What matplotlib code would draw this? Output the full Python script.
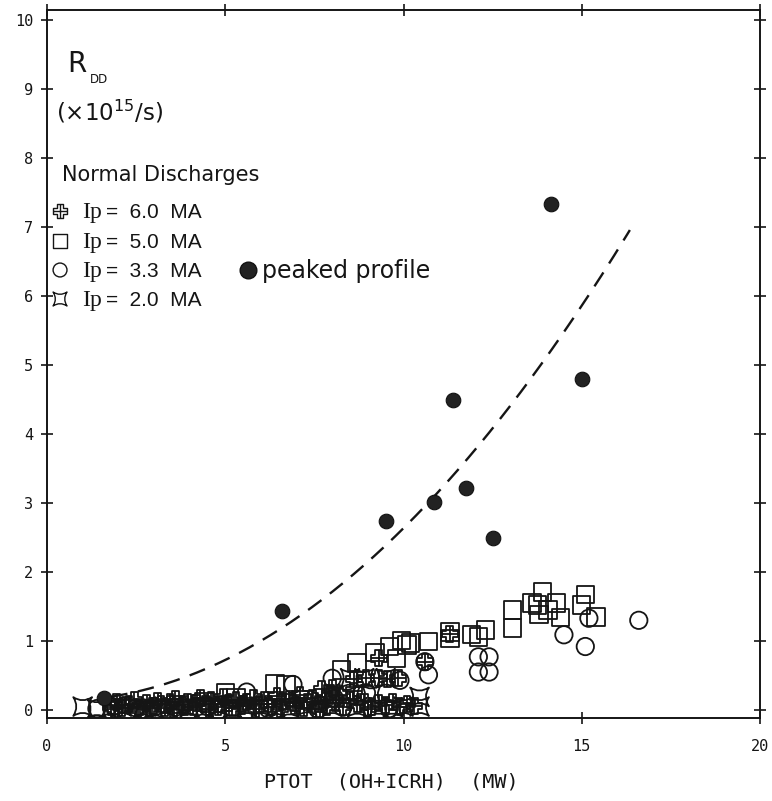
import numpy as np
import matplotlib
matplotlib.use("Agg")
import matplotlib.pyplot as plt
from matplotlib.path import Path

# ---------------- data ----------------
# Ip = 6.0 MA (cross symbol)
ip60_x = [1.8, 1.95, 2.1, 2.3, 2.45, 2.6, 2.8, 2.95, 3.1, 3.3, 3.45, 3.6, 3.8, 3.95,
          4.1, 4.3, 4.45, 4.6, 4.8, 4.95, 5.1, 5.3, 5.45, 5.6, 5.8, 5.95, 6.1, 6.3,
          6.45, 6.6, 6.8, 6.95, 7.1, 7.3, 7.45, 7.6, 7.8, 7.95, 8.1, 8.3, 8.5, 8.7,
          8.9, 9.1, 9.3, 9.5, 9.7, 9.9, 10.1, 10.3,
          1.9, 2.2, 2.55, 2.9, 3.2, 3.55, 3.85, 4.2, 4.55, 4.9, 5.2, 5.5, 5.85,
          6.2, 6.55, 6.9, 7.2, 7.55, 7.85, 8.2, 8.6, 9.0,
          8.6, 8.95, 9.3, 9.55, 9.85, 9.3, 10.6, 11.3, 7.7, 8.0]
ip60_y = [0.05, 0.12, 0.03, 0.09, 0.14, 0.04, 0.10, 0.06, 0.13, 0.03, 0.11, 0.16, 0.07,
          0.12, 0.04, 0.17, 0.09, 0.14, 0.05, 0.19, 0.10, 0.15, 0.06, 0.12, 0.18, 0.08,
          0.14, 0.04, 0.20, 0.11, 0.16, 0.06, 0.22, 0.12, 0.17, 0.08, 0.14, 0.24, 0.10,
          0.05, 0.15, 0.08, 0.12, 0.05, 0.10, 0.07, 0.12, 0.05, 0.09, 0.06,
          0.02, 0.07, 0.01, 0.03, 0.08, 0.02, 0.05, 0.10, 0.02, 0.08, 0.03, 0.09, 0.02,
          0.09, 0.02, 0.10, 0.03, 0.02, 0.05, 0.22, 0.28, 0.02,
          0.45, 0.46, 0.47, 0.45, 0.46, 0.75, 0.70, 1.10, 0.30, 0.32]

# Ip = 5.0 MA (square)
ip50_x = [3.7, 4.4, 5.0, 5.3, 6.4, 6.7, 7.2, 8.26, 8.7, 9.2, 9.6, 9.95, 10.1, 10.2,
          10.7, 11.3, 11.3, 11.9, 12.1, 12.3, 13.05, 13.05, 13.6, 13.75, 13.9, 14.3,
          13.8, 14.4, 15.1, 15.0, 15.4, 14.05, 9.8]
ip50_y = [0.08, 0.12, 0.25, 0.18, 0.38, 0.36, 0.15, 0.58, 0.68, 0.83, 0.92, 1.01, 0.94,
          0.97, 0.99, 1.13, 1.04, 1.09, 1.06, 1.16, 1.45, 1.19, 1.55, 1.52, 1.71, 1.55,
          1.38, 1.34, 1.67, 1.52, 1.35, 1.45, 0.75]

# Ip = 3.3 MA (open circle)
ip33_x = [1.4, 2.5, 3.6, 4.5, 5.6, 6.2, 6.9, 7.6, 8.0, 8.06, 8.3, 8.96, 9.6, 9.9,
          10.6, 10.7, 12.1, 12.4, 12.1, 12.4, 14.5, 15.1, 15.2, 16.6]
ip33_y = [0.02, 0.03, 0.04, 0.05, 0.26, 0.02, 0.37, 0.01, 0.46, 0.17, 0.04, 0.25, 0.02,
          0.43, 0.70, 0.51, 0.77, 0.77, 0.55, 0.55, 1.09, 0.92, 1.33, 1.30]

# Ip = 2.0 MA (concave square)
ip20_x = [1.0, 1.4, 2.1, 2.7, 3.3, 4.0, 4.8, 5.6, 6.4, 7.3, 8.0, 8.4, 8.5, 8.9, 9.5,
          8.7, 9.1, 9.3, 9.7, 10.0, 10.45, 10.45, 1.8, 3.0, 4.4, 5.2, 6.0, 6.8]
ip20_y = [0.05, 0.02, 0.05, 0.03, 0.05, 0.04, 0.06, 0.05, 0.04, 0.06, 0.05, 0.20, 0.46,
          0.46, 0.46, 0.04, 0.22, 0.04, 0.04, 0.05, 0.19, 0.05, 0.04, 0.02, 0.03, 0.02,
          0.05, 0.03]

# peaked profile (filled circles)
peak_x = [1.6, 6.6, 9.5, 10.85, 11.4, 11.75, 12.5, 14.15, 15.0]
peak_y = [0.17, 1.43, 2.74, 3.01, 4.49, 3.22, 2.49, 7.34, 4.80]

# dashed fit curve coefficients  y = c0 + c1 x + c2 x^2
fit_coef = [0.13, -0.0125, 0.0263]
fit_range = [1.8, 16.35]

xticks = [0, 5, 10, 15, 20]
yticks = list(range(0, 11))

# ---------------- markers ----------------
def concave_square():
    k = 0.35
    verts = [(-1, -1), (0, -k), (1, -1), (k, 0), (1, 1), (0, k), (-1, 1), (-k, 0),
             (-1, -1), (-1, -1)]
    codes = [Path.MOVETO, Path.CURVE3, Path.CURVE3, Path.CURVE3, Path.CURVE3,
             Path.CURVE3, Path.CURVE3, Path.CURVE3, Path.CURVE3, Path.CLOSEPOLY]
    return Path(verts, codes)

def cross_marker():
    a = 0.42
    outline = [(-a, 1), (a, 1), (a, a), (1, a), (1, -a), (a, -a), (a, -1), (-a, -1),
               (-a, -a), (-1, -a), (-1, a), (-a, a), (-a, 1)]
    codes = [Path.MOVETO] + [Path.LINETO] * 11 + [Path.CLOSEPOLY]
    verts = outline + [(-1, 0), (1, 0), (0, -1), (0, 1)]
    codes = codes + [Path.MOVETO, Path.LINETO, Path.MOVETO, Path.LINETO]
    return Path(verts, codes)

CSQ = concave_square()
CRS = cross_marker()
ink = "#151515"

# ---------------- figure ----------------
fig = plt.figure(figsize=(7.72, 8.01), dpi=100)
ax = fig.add_axes([47 / 772, 1 - 718 / 801, (760 - 47) / 772, (718 - 10) / 801])
ax.set_xlim(0, 20)
ax.set_ylim(-0.116, 10.145)

ms = 12.5
lw = 1.3
ax.scatter(ip33_x, ip33_y, s=ms ** 2, marker='o', facecolors='none', edgecolors=ink,
           linewidths=lw, zorder=3)
ax.scatter(ip50_x, ip50_y, s=ms ** 2, marker='s', facecolors='none', edgecolors=ink,
           linewidths=lw, zorder=3)
ax.scatter(ip20_x, ip20_y, s=(ms + 1) ** 2, marker=CSQ, facecolors='none', edgecolors=ink,
           linewidths=lw, zorder=3)
ax.scatter(ip60_x, ip60_y, s=(ms - 1) ** 2, marker=CRS, facecolors='none', edgecolors=ink,
           linewidths=lw, zorder=3)
ax.scatter(peak_x, peak_y, s=10.5 ** 2, marker='o', facecolors='#222222',
           edgecolors='#111111', linewidths=0.8, zorder=4)

xf = np.linspace(fit_range[0], fit_range[1], 200)
yf = fit_coef[0] + fit_coef[1] * xf + fit_coef[2] * xf ** 2
ax.plot(xf, yf, color=ink, lw=1.7, linestyle=(0, (7, 4.5)), zorder=2)

# ---------------- axes styling ----------------
for sp in ax.spines.values():
    sp.set_linewidth(1.4)
    sp.set_color(ink)
ax.set_xticks(xticks)
ax.set_yticks(yticks)
ax.tick_params(axis='both', direction='inout', length=8, width=1.2, color=ink,
               top=True, right=True, labelsize=11)
ax.tick_params(axis='x', pad=11)
ax.tick_params(axis='y', pad=6)
for lab in ax.get_xticklabels() + ax.get_yticklabels():
    lab.set_family('DejaVu Sans Mono')
    lab.set_color(ink)
fig.text(391 / 772, 1 - 787 / 801, "PTOT  (OH+ICRH)  (MW)", family='DejaVu Sans Mono',
         fontsize=14.5, color=ink, ha='center', va='baseline')

# ---------------- annotations ----------------
def px2d(px, py):
    return (px - 49) / 35.55, (710 - py) / 69.0

sans = 'DejaVu Sans'
serif = 'Liberation Serif'
tx = dict(transform=ax.transData, color=ink, clip_on=False)

x, y = px2d(69, 72)
ax.text(x, y, "R", family=sans, fontsize=20, **tx)
x, y = px2d(92, 83)
ax.text(x, y, "DD", family=sans, fontsize=8.5, **tx)
x, y = px2d(58, 120)
ax.text(x, y, r"($\times$10$^{15}$/s)", family=sans, fontsize=16.5, **tx)
x, y = px2d(64, 181)
ax.text(x, y, "Normal Discharges", family=sans, fontsize=15, **tx)

rows = [("6.0", CRS, 218), ("5.0", 's', 248), ("3.3", 'o', 277), ("2.0", CSQ, 306)]
for val, mk, base in rows:
    mx, my = px2d(62, base - 7)
    ax.scatter([mx], [my], s=10 ** 2, marker=mk, facecolors='none', edgecolors=ink,
               linewidths=1.0, clip_on=False, zorder=5)
    x, y = px2d(84, base)
    ax.text(x, y, "Ip", family=serif, fontsize=17, **tx)
    x, y = px2d(108, base)
    ax.text(x, y, "=  " + val + "  MA", family='Liberation Sans', fontsize=15, **tx)

mx, my = px2d(249, 270)
ax.scatter([mx], [my], s=12 ** 2, marker='o', facecolors='#222222', edgecolors='#111111',
           clip_on=False, zorder=5)
x, y = px2d(263, 278)
ax.text(x, y, "peaked profile", family=sans, fontsize=17, **tx)

fig.savefig("out.png", dpi=100)
